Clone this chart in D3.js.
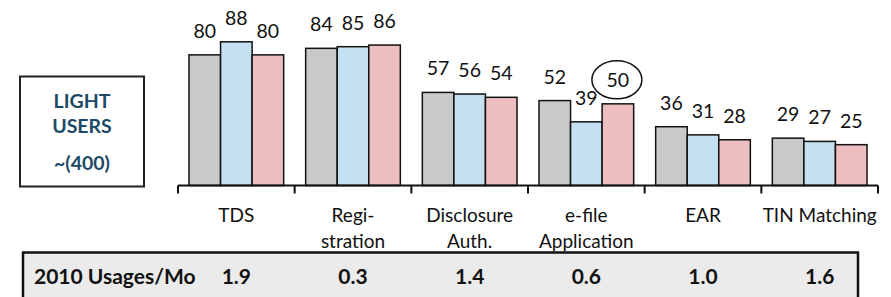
<!DOCTYPE html>
<html>
<head>
<meta charset="utf-8">
<script src="https://cdn.jsdelivr.net/npm/d3@7"></script>
<style>
  body { margin: 0; background: #fff; }
  svg text { font-family: Lato, "Noto Sans", sans-serif; }
</style>
</head>
<body>
<svg id="chart" width="891" height="297"></svg>
<script>
// data
const categories = ["TDS", "Registration", "Disclosure Auth.", "e-file Application", "EAR", "TIN Matching"];
const categoryLines = [["TDS"], ["Regi-", "stration"], ["Disclosure", "Auth."], ["e-file", "Application"], ["EAR"], ["TIN Matching"]];
const seriesA = [80, 84, 57, 52, 36, 29];
const seriesB = [88, 85, 56, 39, 31, 27];
const seriesC = [80, 86, 54, 50, 28, 25];
const usages = ["1.9", "0.3", "1.4", "0.6", "1.0", "1.6"];
const circledPoint = { category: "e-file Application", series: 2 };

const svg = d3.select("svg#chart");
const colors = ["#c9c9c9", "#c4e0f1", "#eebfc0"];
const baseY = 185.5;

const x0 = d3.scaleBand(categories, [178, 878]);
const x1 = d3.scaleBand([0, 1, 2], [11, x0.bandwidth() - 11]);
const y = d3.scaleLinear([0, 100], [baseY, baseY - 163.3]);

const rows = categories.map((c, i) => ({
	category: c,
	values: [seriesA[i], seriesB[i], seriesC[i]]
}));

// left label box
const box = svg.append("g");
box.append("rect")
	.attr("x", 20).attr("y", 76.5).attr("width", 124).attr("height", 110)
	.attr("fill", "#fff").attr("stroke", "#222").attr("stroke-width", 2);
box.selectAll("text")
	.data([["LIGHT", 107.5], ["USERS", 133], ["~(400)", 170]])
	.join("text")
	.attr("x", 82).attr("y", (d) => d[1])
	.attr("text-anchor", "middle")
	.attr("font-size", 19.5).attr("font-weight", "bold")
	.attr("fill", "#1c4966")
	.text((d) => d[0]);

// bars
const groups = svg.append("g")
	.selectAll("g")
	.data(rows)
	.join("g")
	.attr("transform", (d) => `translate(${x0(d.category)},0)`);

groups.selectAll("rect")
	.data((d) => d.values)
	.join("rect")
	.attr("x", (d, i) => x1(i))
	.attr("y", (d) => y(d))
	.attr("width", x1.bandwidth())
	.attr("height", (d) => baseY - y(d))
	.attr("fill", (d, i) => colors[i])
	.attr("stroke", "#111")
	.attr("stroke-width", 1.5);

groups.selectAll("text")
	.data((d) => d.values)
	.join("text")
	.attr("x", (d, i) => x1(i) + x1.bandwidth() / 2)
	.attr("y", (d) => y(d) - 17)
	.attr("text-anchor", "middle")
	.attr("font-size", 19.5)
	.attr("fill", "#111")
	.text((d) => d);

// circle round the highlighted value
const hi = seriesC[categories.indexOf(circledPoint.category)];
svg.append("ellipse")
	.attr("cx", x0(circledPoint.category) + x1(circledPoint.series) + x1.bandwidth() / 2 - 1)
	.attr("cy", y(hi) - 24)
	.attr("rx", 25).attr("ry", 19)
	.attr("fill", "none").attr("stroke", "#111").attr("stroke-width", 1.5);

// axis line with ticks at the band edges
const axis = svg.append("g");
axis.append("line")
	.attr("x1", x0.range()[0]).attr("x2", x0.range()[1])
	.attr("y1", baseY).attr("y2", baseY)
	.attr("stroke", "#111").attr("stroke-width", 2);
axis.selectAll("line.tick")
	.data(categories.map((c) => x0(c)).concat([x0.range()[1]]))
	.join("line")
	.attr("class", "tick")
	.attr("x1", (d) => d).attr("x2", (d) => d)
	.attr("y1", baseY).attr("y2", baseY + 8)
	.attr("stroke", "#111").attr("stroke-width", 2);

// category labels
const catLabels = axis.selectAll("text.cat")
	.data(rows)
	.join("text")
	.attr("class", "cat")
	.attr("x", (d) => x0(d.category) + x0.bandwidth() / 2)
	.attr("y", 221.5)
	.attr("text-anchor", "middle")
	.attr("font-size", 19)
	.attr("fill", "#111");
catLabels.selectAll("tspan")
	.data((d, i) => categoryLines[i])
	.join("tspan")
	.attr("x", function () { return this.parentNode.getAttribute("x"); })
	.attr("dy", (d, i) => (i === 0 ? 0 : 26.5))
	.text((d) => d);

// usage table row
const table = svg.append("g");
table.append("rect")
	.attr("x", 23).attr("y", 252.5).attr("width", 835).attr("height", 60)
	.attr("fill", "#ebebeb").attr("stroke", "#111").attr("stroke-width", 2.5);
table.append("text")
	.attr("x", 34).attr("y", 284)
	.attr("font-size", 21).attr("font-weight", "bold").attr("fill", "#111")
	.text("2010 Usages/Mo");
table.selectAll("text.val")
	.data(rows)
	.join("text")
	.attr("class", "val")
	.attr("x", (d) => x0(d.category) + x0.bandwidth() / 2)
	.attr("y", 284)
	.attr("text-anchor", "middle")
	.attr("font-size", 21).attr("font-weight", "bold").attr("fill", "#111")
	.text((d, i) => usages[i]);
</script>
</body>
</html>
